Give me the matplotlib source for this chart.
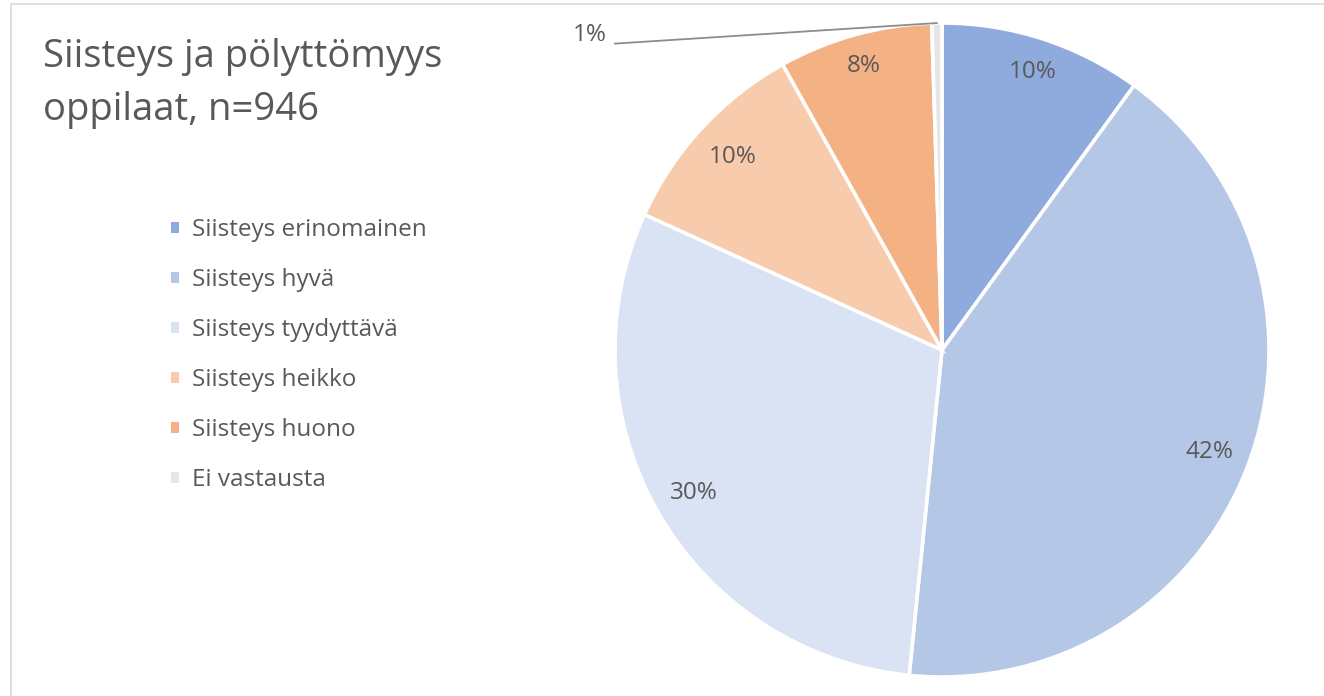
import numpy as np
import matplotlib
matplotlib.use("Agg")
import matplotlib.pyplot as plt
from matplotlib.patches import Patch, Rectangle
from matplotlib.lines import Line2D

# ---- data ----
categories = ["Siisteys erinomainen", "Siisteys hyvä", "Siisteys tyydyttävä",
              "Siisteys heikko", "Siisteys huono", "Ei vastausta"]
values = [10.0, 41.6, 30.2, 10.1, 7.6, 0.5]
value_labels = ["10%", "42%", "30%", "10%", "8%", "1%"]
colors = ["#8FAADC", "#B4C7E7", "#DAE3F3", "#F8CBAD", "#F4B183", "#E7E6E6"]
title_lines = ["Siisteys ja pölyttömyys", "oppilaat, n=946"]

TXT = "#595959"
FONT = "Open Sans"
W, H = 1324, 696

fig = plt.figure(figsize=(W / 100, H / 100), dpi=100)
fig.patch.set_facecolor("white")

# chart frame (only top/left visible in reference)
fig.add_artist(Rectangle((11 / W, -0.5), 2.0, 1.5 - 4 / H, transform=fig.transFigure,
                         fill=False, edgecolor="#D9D9D9", linewidth=1.2))

# pie axes: centre (942, 350) px, radius 327 px
cx, cy, r = 942, 350, 327
ax = fig.add_axes([(cx - r) / W, (H - cy - r) / H, 2 * r / W, 2 * r / H])

wedges, _ = ax.pie(values, colors=colors, startangle=90, counterclock=False,
                   radius=1.0, wedgeprops=dict(edgecolor="white", linewidth=2.6))
ax.set_xlim(-1, 1)
ax.set_ylim(-1, 1)
ax.axis("off")

# data labels
label_dist = [0.893, 0.874, 0.875, 0.87, 0.90, None]
for i, (w, lab) in enumerate(zip(wedges, value_labels)):
    mid = np.deg2rad((w.theta1 + w.theta2) / 2)
    if label_dist[i] is not None:
        ax.text(label_dist[i] * np.cos(mid), label_dist[i] * np.sin(mid), lab,
                ha="center", va="center", fontsize=17.5, color=TXT, family=FONT)
    else:
        ex, ey = np.cos(mid), np.sin(mid)
        lx, ly = -1.0, 0.937
        ax.add_line(Line2D([lx, ex], [ly, ey], color="#8C8C8C", linewidth=1.3,
                           clip_on=False))
        ax.text(lx - 0.025, ly + 0.027, lab, ha="right", va="center", fontsize=17.5,
                color=TXT, family=FONT, clip_on=False)

# title
fig.text(43 / W, 1 - 67 / H, title_lines[0], fontsize=27.5, color=TXT, family=FONT,
         ha="left", va="baseline")
fig.text(43 / W, 1 - 120 / H, title_lines[1], fontsize=27.5, color=TXT, family=FONT,
         ha="left", va="baseline")

# legend
handles = [Patch(facecolor=c, edgecolor="none") for c in colors]
fig.legend(handles, categories, loc="upper left",
           bbox_to_anchor=(171 / W, 1 - 218 / H), frameon=False,
           prop=dict(family=FONT, size=17.5), labelcolor=TXT,
           handlelength=0.32, handleheight=0.32, handletextpad=0.55,
           labelspacing=1.07, borderaxespad=0, borderpad=0)

fig.savefig("out.png", dpi=100)
